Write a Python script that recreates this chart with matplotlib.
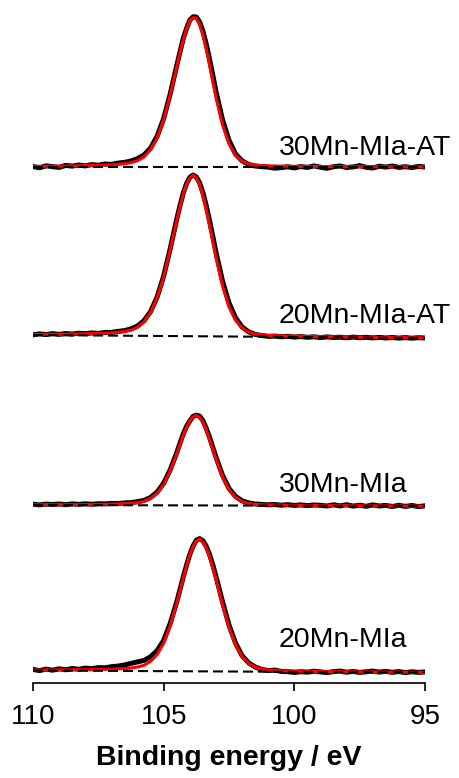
import numpy as np
import matplotlib.pyplot as plt

plt.rcParams['font.family'] = ['Liberation Sans', 'DejaVu Sans']

# binding energy grid (eV), finer steps across the Si 2p peak
energy = np.concatenate([
    np.arange(110, 106.9, -0.25),
    np.arange(106.75, 104.7, -0.25),
    np.arange(104.5, 102.9, -0.125),
    np.arange(102.75, 101.2, -0.25),
    np.arange(101, 94.9, -0.25),
])

names = ["30Mn-MIa-AT", "20Mn-MIa-AT", "30Mn-MIa", "20Mn-MIa"]

# measured spectra (a.u.)
data_30at = [0.5, -0.8, 1.2, 0.3, -0.4, 1.6, 0.9, 2.0, 1.1, 2.4, 1.8, 3.0, 2.6,
             3.9, 4.6, 6.0, 8.4, 12.1, 19.0, 30.8, 48.5, 73.0,
             101.5, 115.0, 128.6, 138.5, 146.8, 150.2, 150.0, 145.1, 136.0, 123.4, 108.6, 92.5, 75.8,
             47.5, 26.8, 13.0, 6.2, 2.5, 1.0, 0.3,
             -0.1, -1.2, -0.6, 0.2, -0.9, 0.4, -0.4, 1.1, -0.2, -1.3, 0.3, 1.0, -0.5, 0.1, 1.3,
             -0.3, -1.0, 0.8, -0.1, 1.0, -0.4, 0.3, -0.6, 0.6, 0.0]
data_20at = [2.2, 3.1, 2.4, 3.4, 2.6, 3.5, 2.9, 3.8, 3.3, 4.1, 3.6, 4.5, 4.6,
             5.6, 6.4, 8.1, 11.0, 16.4, 25.5, 40.0, 61.0, 88.2,
             117.9, 131.4, 144.0, 153.5, 159.6, 162.0, 160.0, 154.2, 144.5, 131.9, 117.0, 101.3, 85.0,
             56.2, 34.0, 19.2, 10.1, 5.2, 2.6, 1.5,
             0.6, 0.9, 0.2, 0.7, -0.1, 0.4, -0.3, 0.2, -0.6, 0.1, -0.5, -0.2, -0.8, -0.1, -0.7,
             -0.3, -0.9, -0.4, -1.0, -0.5, -1.1, -0.6, -1.2, -0.7, -1.0]
data_30 = [0.8, 0.1, 0.9, 0.5, 1.0, 0.3, 1.1, 0.6, 1.2, 0.7, 1.3, 1.1, 1.6,
           1.5, 2.1, 2.4, 3.3, 4.6, 7.6, 12.9, 21.8, 35.2,
           52.3, 61.9, 71.0, 78.6, 84.0, 88.6, 89.9, 88.9, 84.5, 77.0, 68.2, 58.0, 48.1,
           29.8, 16.6, 8.6, 4.2, 2.1, 1.0, 0.6,
           0.2, 0.5, -0.2, 0.3, -0.4, 0.1, -0.6, 0.0, -0.3, -1.0, 0.2, -0.9, 0.3, -1.1, -0.2,
           -1.3, 0.1, -1.0, -0.4, -1.5, -0.3, -1.4, -0.5, -1.6, -0.8]
data_20 = [2.6, 1.4, 2.9, 1.8, 3.2, 2.2, 3.5, 2.7, 3.9, 3.3, 4.4, 4.2, 5.3,
           5.9, 7.0, 8.6, 10.1, 11.6, 15.3, 21.4, 31.5, 48.6,
           70.1, 82.6, 95.0, 106.8, 117.6, 126.0, 131.8, 133.4, 131.2, 126.1, 117.9, 107.6, 95.8,
           70.4, 47.0, 29.0, 16.3, 9.2, 5.0, 2.6,
           1.4, 1.9, 0.6, 0.4, -0.5, 0.3, -0.2, 0.8, 0.1, -0.6, 0.4, 0.9, -0.2, 0.5, -0.4,
           0.2, 0.9, -0.1, 0.6, -0.3, 0.4, -0.6, 0.2, -0.4, 0.1]

# fitted envelopes (a.u.)
fit_30at = [0.6, 0.7, 0.7, 0.8, 0.9, 1.0, 1.1, 1.2, 1.4, 1.5, 1.7, 1.9, 2.2,
            2.7, 3.3, 4.3, 6.3, 10.0, 17.4, 29.0, 47.3, 71.9,
            100.2, 114.3, 127.2, 138.0, 146.0, 149.4, 148.9, 142.7, 132.3, 118.5, 102.7, 86.2, 70.0,
            42.2, 23.2, 11.4, 5.7, 3.0, 1.9, 1.4,
            1.1, 1.0, 0.9, 0.8, 0.7, 0.6, 0.6, 0.5, 0.5, 0.4, 0.4, 0.4, 0.4, 0.3, 0.3,
            0.3, 0.3, 0.3, 0.3, 0.2, 0.2, 0.2, 0.2, 0.2, 0.2]
fit_20at = [2.7, 2.7, 2.8, 2.8, 2.8, 2.9, 3.0, 3.1, 3.2, 3.4, 3.5, 3.8, 4.1,
            4.8, 5.5, 6.9, 9.7, 15.2, 24.6, 39.3, 60.2, 87.3,
            116.7, 130.5, 143.2, 152.8, 159.1, 161.8, 159.2, 152.5, 141.6, 127.9, 112.4, 96.1, 79.8,
            51.3, 30.0, 16.8, 8.9, 4.9, 2.9, 2.2,
            1.6, 1.4, 1.1, 1.0, 0.8, 0.7, 0.5, 0.4, 0.3, 0.2, 0.1, 0.0, 0.0, -0.1, -0.2,
            -0.25, -0.3, -0.4, -0.45, -0.5, -0.55, -0.6, -0.7, -0.75, -0.8]
fit_30 = [0.3, 0.3, 0.4, 0.3, 0.3, 0.4, 0.4, 0.4, 0.5, 0.5, 0.7, 0.8, 0.9,
          1.1, 1.3, 1.8, 2.3, 3.7, 6.5, 11.7, 20.7, 34.0,
          51.1, 60.4, 69.5, 77.5, 84.1, 88.1, 89.6, 87.6, 82.8, 75.2, 66.1, 56.2, 46.2,
          28.3, 15.3, 7.5, 3.4, 1.5, 0.6, 0.3,
          0.1, 0.0, -0.1, -0.2, -0.3, -0.3, -0.4, -0.4, -0.5, -0.5, -0.5, -0.6, -0.6, -0.6, -0.7,
          -0.7, -0.8, -0.8, -0.8, -0.9, -0.9, -1.0, -1.0, -1.1, -1.1]
fit_20 = [2.0, 2.0, 2.0, 2.0, 2.1, 2.1, 2.2, 2.3, 2.3, 2.4, 2.5, 2.7, 2.8,
          3.1, 3.4, 4.0, 5.0, 6.7, 10.7, 17.5, 28.7, 46.3,
          68.6, 81.3, 94.2, 105.9, 117.3, 125.6, 131.1, 132.7, 130.2, 124.6, 115.8, 105.1, 93.0,
          67.6, 44.7, 27.4, 15.3, 8.6, 4.8, 2.8,
          2.0, 1.7, 1.2, 1.1, 1.0, 0.8, 0.7, 0.6, 0.5, 0.45, 0.4, 0.3, 0.3, 0.2, 0.1,
          0.1, 0.1, 0.0, 0.0, -0.1, -0.1, -0.2, -0.2, -0.3, -0.3]

# background level at 110 eV and 95 eV
bg_30at = [0.0, 0.0]
bg_20at = [2.0, -1.0]
bg_30 = [0.0, -1.0]
bg_20 = [1.5, -0.5]

spectra = [data_30at, data_20at, data_30, data_20]
fits = [fit_30at, fit_20at, fit_30, fit_20]
backgrounds = [bg_30at, bg_20at, bg_30, bg_20]

# vertical stacking and label height above each background
offsets = [516, 346, 178, 11]
label_dy = [12, 14, 13, 25]

fig = plt.figure(figsize=(4.6, 7.78), dpi=100)
ax = fig.add_axes([33 / 460, 95 / 778, 392 / 460, 683 / 778])

for name, y, f, bg, off, dy in zip(names, spectra, fits, backgrounds, offsets, label_dy):
    ax.plot(energy, off + np.array(y), color='black', lw=3.6,
            solid_joinstyle='round', solid_capstyle='round', zorder=1)
    ax.plot(energy, off + np.array(f), color='red', lw=2.2, zorder=2)
    ax.plot([110, 95], [off + bg[0], off + bg[1]], color='black', lw=1.5,
            dashes=(4.8, 2.4), zorder=3)
    ax.text(100.6, off + dy, name, fontsize=20.5, ha='left', va='baseline')

ax.set_xlim(110, 95)
ax.set_ylim(0, 683)
for side in ['left', 'right', 'top']:
    ax.spines[side].set_visible(False)
ax.spines['bottom'].set_linewidth(1.2)
ax.set_xticks([110, 105, 100, 95])
ax.set_yticks([])
ax.tick_params(axis='x', direction='out', length=6, width=1.2, labelsize=20, pad=9)
ax.set_xlabel('Binding energy / eV', fontsize=20.5, fontweight='bold', labelpad=11)

fig.savefig('out.png', dpi=100)
